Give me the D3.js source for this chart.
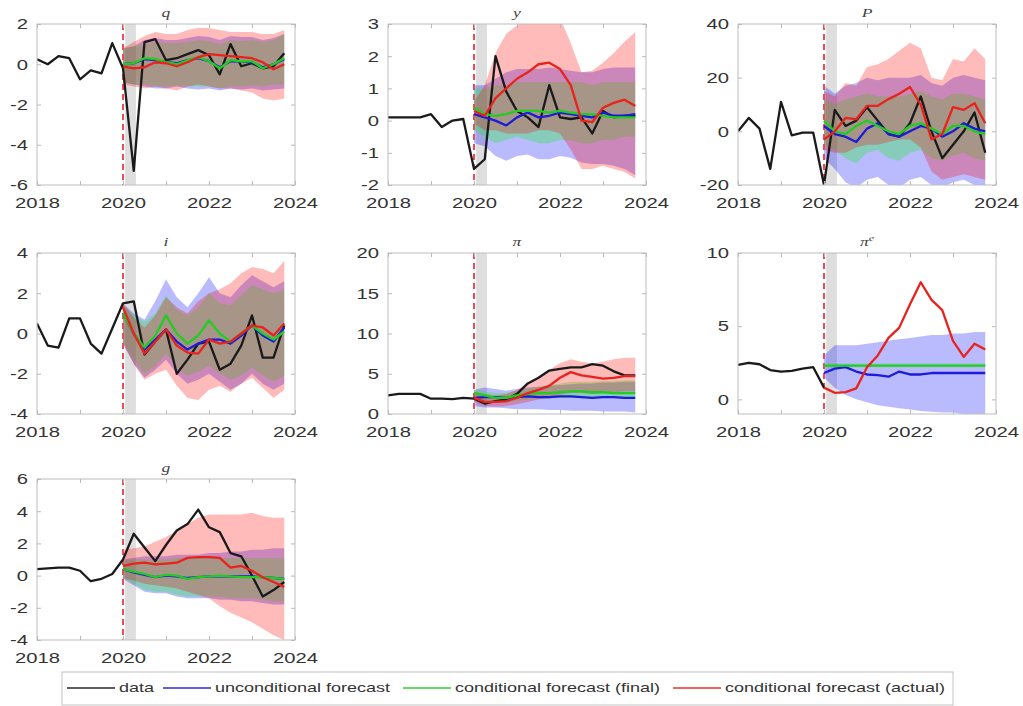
<!DOCTYPE html>
<meta charset="utf-8">
<script src="https://d3js.org/d3.v7.min.js"></script>
<title>Forecasts</title>
<style>
  body { margin: 0; background: white; }
  svg { display: block; font-family: "Liberation Sans", Arial, sans-serif; }
</style>
<body>
<div id="chart"></div>
<script>
// data: quarterly 2018Q1..2023Q4, forecasts: 2020Q1..2023Q4
var dataStart = 2018, fcStart = 2020, step = 0.25;
var yearTicks = [2018, 2019, 2020, 2021, 2022, 2023, 2024];
var legendLabels = ["data", "unconditional forecast", "conditional forecast (final)", "conditional forecast (actual)"];

// q
var qTicks = [-6, -4, -2, 0, 2];
var qData = [0.25, 0.0, 0.4, 0.3, -0.75, -0.3, -0.45, 1.05, -0.2, -5.3, 1.1, 1.25, 0.2, 0.3, 0.5, 0.7, 0.45, -0.5, 1.0, -0.1, 0.05, -0.2, -0.1, 0.55];
var qUnc = [0.0, 0.05, 0.25, 0.2, 0.1, 0.05, 0.2, 0.3, 0.15, -0.15, 0.15, 0.15, 0.1, -0.15, 0.0, 0.25];
var qFin = [0.0, 0.05, 0.3, 0.25, 0.1, 0.0, 0.2, 0.35, 0.15, -0.2, 0.2, 0.15, 0.15, -0.2, 0.0, 0.3];
var qAct = [-0.1, -0.2, -0.15, 0.1, 0.05, -0.1, 0.1, 0.35, 0.5, 0.45, 0.4, 0.35, 0.3, 0.1, -0.25, 0.0];
var qUncLo = [-0.9, -1.0, -1.1, -1.2, -1.2, -1.1, -1.2, -1.25, -1.2, -1.3, -1.2, -1.25, -1.2, -1.3, -1.25, -1.2];
var qUncHi = [0.8, 0.9, 1.2, 1.3, 1.2, 1.2, 1.3, 1.4, 1.35, 1.2, 1.4, 1.35, 1.35, 1.2, 1.3, 1.5];
var qFinLo = [-0.9, -1.0, -1.0, -1.1, -1.1, -1.05, -1.1, -1.1, -1.1, -1.2, -1.1, -1.1, -1.05, -1.1, -1.0, -1.0];
var qFinHi = [0.8, 0.9, 1.0, 1.1, 1.05, 1.05, 1.1, 1.2, 1.15, 1.0, 1.2, 1.15, 1.2, 1.1, 1.2, 1.5];
var qActLo = [-1.0, -1.1, -1.2, -1.1, -1.2, -1.3, -1.1, -1.0, -1.1, -1.2, -1.2, -1.3, -1.4, -1.7, -1.8, -1.7];
var qActHi = [0.8, 1.1, 1.4, 1.6, 1.5, 1.5, 1.7, 1.8, 1.8, 1.7, 1.6, 1.6, 1.6, 1.5, 1.5, 1.7];

// y
var yTicks = [-2, -1, 0, 1, 2, 3];
var yData = [0.1, 0.1, 0.1, 0.1, 0.2, -0.2, 0.0, 0.05, -1.5, -1.2, 2.0, 0.9, 0.3, 0.1, -0.2, 1.1, 0.1, 0.05, 0.1, -0.4, 0.3, 0.1, 0.15, 0.15];
var yUnc = [0.2, 0.1, 0.0, -0.15, 0.1, 0.25, 0.1, 0.15, 0.25, 0.2, 0.15, 0.1, 0.25, 0.15, 0.15, 0.2];
var yFin = [0.4, 0.2, 0.15, 0.2, 0.3, 0.3, 0.3, 0.25, 0.3, 0.25, 0.2, 0.2, 0.15, 0.1, 0.1, 0.1];
var yAct = [0.3, 0.15, 0.7, 1.0, 1.3, 1.5, 1.75, 1.8, 1.6, 1.1, 0.0, -0.05, 0.4, 0.55, 0.65, 0.45];
var yUncLo = [-0.7, -0.8, -1.1, -1.25, -1.1, -1.05, -1.2, -1.2, -1.1, -1.15, -1.3, -1.35, -1.35, -1.4, -1.5, -1.7];
var yUncHi = [1.1, 1.1, 1.3, 1.5, 1.6, 1.6, 1.6, 1.65, 1.6, 1.55, 1.5, 1.5, 1.6, 1.65, 1.65, 1.65];
var yFinLo = [-0.3, -0.5, -0.7, -0.6, -0.5, -0.6, -0.7, -0.7, -0.6, -0.6, -0.7, -0.7, -0.6, -0.6, -0.5, -0.5];
var yFinHi = [1.0, 1.0, 1.1, 1.1, 1.2, 1.2, 1.2, 1.2, 1.2, 1.2, 1.2, 1.1, 1.2, 1.2, 1.2, 1.2];
var yActLo = [-0.1, -0.3, -0.3, -0.4, -0.4, -0.4, -0.3, -0.3, -0.4, -0.9, -1.5, -1.5, -1.4, -1.5, -1.6, -1.8];
var yActHi = [0.6, 1.1, 2.1, 2.7, 2.95, 3.2, 3.4, 3.4, 3.2, 2.4, 1.5, 1.55, 1.8, 2.1, 2.45, 2.75];

// P
var pTicks = [-20, 0, 20, 40];
var pData = [0, 5, 1, -14, 11, -1.5, -0.5, -0.5, -20, 8, 2, 4, 9, 4, -1, -2, 3, 13, 0, -10, -5, 0, 7, -8];
var pUnc = [2, -1, -2, -4, 1, 3, -1, -2, 0, 2, 1, -2, 0, 3, 1, 0];
var pFin = [4, 0, -1, 2, 4, 2, 0, -1, 2, 3, 1, -1, 2, 2, 0, -1];
var pAct = [-3, 0, 5, 4.5, 9.5, 9.5, 12, 14, 16.5, 10, -3, -1, 9, 8, 10.5, 3];
var pUncLo = [-10, -14, -19, -21, -18, -17, -20, -21, -18, -17, -20, -21, -19, -18, -20, -21];
var pUncHi = [17, 14, 17, 18, 20, 19, 20, 20, 20, 21, 18, 17, 20, 21, 20, 19];
var pFinLo = [-5, -7, -10, -12, -8, -7, -10, -11, -8, -7, -10, -11, -9, -8, -10, -11];
var pFinHi = [12, 10, 12, 13, 14, 13, 13, 13, 14, 15, 13, 12, 14, 14, 13, 12];
var pActLo = [-7, -8, -8, -6, -5, -5, -4, -3, -3, -6, -15, -18, -17, -16, -17, -18];
var pActHi = [15, 13, 18, 17, 24, 25, 27, 30, 33, 31, 20, 19, 27, 26, 31, 27];

// i
var iTicks = [-4, -2, 0, 2, 4];
var iData = [0.5, -0.6, -0.7, 0.75, 0.75, -0.5, -1.0, 0.25, 1.5, 1.6, -1.05, -0.4, 0.2, -2.0, -1.3, -0.5, -0.4, -1.8, -1.5, -0.6, 0.9, -1.2, -1.2, 0.4];
var iUnc = [1.0, 0.0, -0.8, -0.3, 0.2, -0.4, -0.8, -0.5, -0.3, -0.3, -0.5, -0.1, 0.4, -0.1, -0.4, 0.3];
var iFin = [1.0, 0.0, -0.7, -0.1, 0.9, 0.0, -0.5, -0.1, 0.65, 0.0, -0.4, 0.0, 0.4, 0.0, -0.3, 0.1];
var iAct = [1.3, 0.0, -1.0, -0.4, 0.2, -0.6, -0.95, -1.0, -0.3, -0.5, -0.4, 0.0, 0.4, 0.3, -0.1, 0.5];
var iUncLo = [-0.5, -1.5, -2.2, -1.8, -1.3, -2.0, -2.5, -2.3, -2.0, -2.4, -2.8, -2.5, -2.0, -2.5, -2.8, -2.5];
var iUncHi = [1.5, 1.0, 0.7, 1.6, 2.7, 1.8, 1.3, 2.0, 2.8, 2.0, 1.8, 2.4, 2.9, 2.6, 2.3, 2.6];
var iFinLo = [-0.4, -1.3, -2.0, -1.6, -1.0, -1.7, -2.1, -1.9, -1.6, -2.0, -2.3, -2.1, -1.7, -2.1, -2.4, -2.1];
var iFinHi = [1.4, 0.9, 0.6, 1.0, 1.9, 1.2, 0.9, 1.3, 2.0, 1.5, 1.4, 1.9, 2.4, 2.2, 2.0, 2.2];
var iActLo = [-0.5, -1.5, -2.3, -2.0, -1.8, -2.6, -3.2, -3.3, -2.8, -2.6, -2.9, -2.5, -2.2, -2.7, -3.2, -2.8];
var iActHi = [1.5, 0.8, 0.3, 0.9, 1.8, 1.3, 1.0, 1.6, 2.0, 2.2, 2.5, 3.0, 3.3, 3.2, 3.0, 3.6];

// pi
var piTicks = [0, 5, 10, 15, 20];
var piData = [2.3, 2.5, 2.5, 2.5, 1.9, 1.9, 1.85, 2.0, 1.9, 1.3, 1.6, 1.8, 2.5, 3.8, 4.5, 5.4, 5.6, 5.8, 5.8, 6.2, 6.0, 5.3, 4.8, 4.8];
var piUnc = [2.0, 2.1, 2.1, 2.0, 2.1, 2.2, 2.1, 2.1, 2.2, 2.2, 2.1, 2.0, 2.1, 2.1, 2.0, 2.0];
var piFin = [2.6, 2.3, 2.0, 2.0, 2.3, 2.5, 2.6, 2.6, 2.7, 2.8, 2.8, 2.7, 2.7, 2.6, 2.6, 2.6];
var piAct = [2.0, 1.5, 1.5, 1.6, 2.0, 2.6, 3.0, 3.5, 4.5, 5.2, 4.8, 4.6, 4.4, 4.5, 4.7, 4.7];
var piUncLo = [1.0, 0.8, 0.8, 0.7, 0.6, 0.6, 0.6, 0.5, 0.5, 0.4, 0.4, 0.4, 0.3, 0.3, 0.3, 0.2];
var piUncHi = [3.0, 3.3, 3.1, 2.9, 3.1, 3.3, 3.4, 3.5, 3.6, 3.7, 3.8, 3.8, 3.9, 3.9, 4.0, 4.0];
var piFinLo = [2.0, 1.6, 1.4, 1.4, 1.6, 1.8, 1.9, 1.9, 2.0, 2.0, 2.0, 2.0, 2.0, 2.0, 2.0, 2.0];
var piFinHi = [3.0, 2.8, 2.6, 2.6, 2.9, 3.2, 3.4, 3.6, 3.8, 4.0, 4.0, 4.0, 4.1, 4.1, 4.2, 4.2];
var piActLo = [1.5, 1.0, 0.9, 1.0, 1.2, 1.5, 1.8, 2.0, 2.4, 2.6, 2.6, 2.5, 2.6, 2.7, 2.8, 2.8];
var piActHi = [2.8, 2.5, 2.3, 2.5, 3.0, 3.8, 4.5, 5.5, 6.3, 6.8, 6.5, 6.3, 6.5, 6.8, 7.0, 7.0];

// pi^e (data only to 2020Q1, no band for the actual path)
var peTicks = [0, 5, 10];
var peData = [2.35, 2.5, 2.4, 2.0, 1.9, 1.95, 2.1, 2.2, 0.8];
var peUnc = [1.8, 2.1, 2.2, 1.9, 1.7, 1.65, 1.55, 1.9, 1.7, 1.7, 1.8, 1.8, 1.8, 1.8, 1.8, 1.8];
var peFin = [2.3, 2.3, 2.3, 2.3, 2.3, 2.3, 2.3, 2.3, 2.3, 2.3, 2.3, 2.3, 2.3, 2.3, 2.3, 2.3];
var peAct = [0.8, 0.45, 0.5, 0.75, 2.2, 3.0, 4.2, 4.9, 6.5, 8.0, 6.8, 6.1, 4.0, 2.9, 3.8, 3.4];
var peUncLo = [1.5, 0.8, 0.3, 0.0, -0.2, -0.4, -0.5, -0.6, -0.7, -0.8, -0.85, -0.9, -0.9, -1.0, -1.0, -1.0];
var peUncHi = [3.0, 3.7, 3.7, 3.7, 3.8, 3.9, 4.0, 4.1, 4.2, 4.3, 4.4, 4.4, 4.5, 4.5, 4.6, 4.6];
var peFinLo = [2.2, 2.2, 2.2, 2.2, 2.2, 2.2, 2.2, 2.2, 2.2, 2.2, 2.2, 2.2, 2.2, 2.2, 2.2, 2.2];
var peFinHi = [2.45, 2.45, 2.45, 2.45, 2.45, 2.45, 2.45, 2.45, 2.45, 2.45, 2.45, 2.45, 2.45, 2.45, 2.45, 2.45];

// g
var gTicks = [-4, -2, 0, 2, 4, 6];
var gData = [0.4, 0.45, 0.5, 0.5, 0.3, -0.35, -0.2, 0.1, 1.0, 2.6, 1.75, 0.9, 1.9, 2.8, 3.2, 4.1, 3.0, 2.7, 1.4, 1.2, 0.0, -1.3, -0.9, -0.4];
var gUnc = [0.4, 0.2, 0.05, -0.1, 0.0, -0.05, -0.15, -0.1, -0.05, -0.05, -0.05, -0.05, -0.05, -0.1, -0.15, -0.2];
var gFin = [0.4, 0.25, 0.1, -0.1, 0.05, 0.0, -0.2, -0.1, -0.05, 0.0, -0.05, -0.1, -0.1, -0.1, -0.15, -0.2];
var gAct = [0.6, 0.75, 0.8, 0.7, 0.75, 0.8, 1.1, 1.15, 1.15, 1.1, 0.5, 0.6, 0.3, -0.1, -0.4, -0.7];
var gUncLo = [-0.2, -0.6, -1.0, -1.1, -1.1, -1.3, -1.4, -1.4, -1.4, -1.5, -1.5, -1.6, -1.6, -1.7, -1.8, -1.8];
var gUncHi = [1.0, 1.1, 1.2, 1.2, 1.2, 1.3, 1.3, 1.3, 1.4, 1.4, 1.5, 1.5, 1.6, 1.6, 1.7, 1.7];
var gFinLo = [-0.1, -0.5, -0.9, -1.0, -1.0, -1.2, -1.3, -1.3, -1.3, -1.3, -1.4, -1.4, -1.4, -1.5, -1.6, -1.6];
var gFinHi = [0.9, 1.0, 1.0, 1.0, 1.0, 1.1, 1.1, 1.1, 1.1, 1.1, 1.1, 1.1, 1.1, 1.1, 1.1, 1.1];
var gActLo = [-0.2, -0.3, -0.5, -0.6, -0.7, -0.8, -1.0, -1.2, -1.4, -1.9, -2.3, -2.6, -2.9, -3.3, -3.7, -4.0];
var gActHi = [1.6, 1.7, 1.8, 2.1, 2.4, 2.8, 3.2, 3.6, 3.8, 3.8, 3.8, 3.8, 3.9, 3.7, 3.6, 3.6];

var panels = [
  {title: "q", col: 0, row: 0, dom: [-6, 2], ticks: qTicks, data: qData, unc: qUnc, fin: qFin, act: qAct,
   bands: [[qUncLo, qUncHi], [qFinLo, qFinHi], [qActLo, qActHi]]},
  {title: "y", col: 1, row: 0, dom: [-2, 3], ticks: yTicks, data: yData, unc: yUnc, fin: yFin, act: yAct,
   bands: [[yUncLo, yUncHi], [yFinLo, yFinHi], [yActLo, yActHi]]},
  {title: "P", col: 2, row: 0, dom: [-20, 40], ticks: pTicks, data: pData, unc: pUnc, fin: pFin, act: pAct,
   bands: [[pUncLo, pUncHi], [pFinLo, pFinHi], [pActLo, pActHi]]},
  {title: "i", col: 0, row: 1, dom: [-4, 4], ticks: iTicks, data: iData, unc: iUnc, fin: iFin, act: iAct,
   bands: [[iUncLo, iUncHi], [iFinLo, iFinHi], [iActLo, iActHi]]},
  {title: "π", col: 1, row: 1, dom: [0, 20], ticks: piTicks, data: piData, unc: piUnc, fin: piFin, act: piAct,
   bands: [[piUncLo, piUncHi], [piFinLo, piFinHi], [piActLo, piActHi]]},
  {title: "π", sup: "e", col: 2, row: 1, dom: [-1, 10], ticks: peTicks, data: peData, unc: peUnc, fin: peFin, act: peAct,
   bands: [[peUncLo, peUncHi], [peFinLo, peFinHi], null]},
  {title: "g", col: 0, row: 2, dom: [-4, 6], ticks: gTicks, data: gData, unc: gUnc, fin: gFin, act: gAct,
   bands: [[gUncLo, gUncHi], [gFinLo, gFinHi], [gActLo, gActHi]]}
];

var lineColors = ["#1a1a1a", "#1c1cd6", "#22cc22", "#e8231d"];
var bandColors = ["rgba(0,0,255,0.27)", "rgba(0,255,0,0.27)", "rgba(255,0,0,0.27)"];
var shadeFrom = 2020.05, shadeTo = 2020.3;

var SX = 1.35; // glyphs in the picture are wider than tall
var colLeft = [37, 388, 738], rowTop = [24, 253, 479], pw = 258, ph = 161;

var svg = d3.select("#chart").append("svg")
    .attr("width", 1023)
    .attr("height", 706);

panels.forEach(function(p, k) {
  var left = colLeft[p.col], top = rowTop[p.row];
  var x = d3.scaleLinear().domain([2018, 2024]).range([left, left + pw]);
  var y = d3.scaleLinear().domain(p.dom).range([top + ph, top]);
  var g = svg.append("g");

  g.append("clipPath").attr("id", "clip" + k)
    .append("rect").attr("x", left).attr("y", top).attr("width", pw).attr("height", ph);
  var plot = g.append("g").attr("clip-path", "url(#clip" + k + ")");

  plot.append("rect")
    .attr("x", x(shadeFrom)).attr("y", top)
    .attr("width", x(shadeTo) - x(shadeFrom)).attr("height", ph)
    .attr("fill", "#dedede");

  p.bands.forEach(function(b, j) {
    if (!b) return;
    var area = d3.area()
      .x(function(d, i) { return x(fcStart + i * step); })
      .y0(function(d, i) { return y(b[0][i]); })
      .y1(function(d, i) { return y(b[1][i]); });
    plot.append("path").datum(b[0]).attr("d", area).attr("fill", bandColors[j]);
  });

  plot.append("line")
    .attr("x1", x(fcStart)).attr("x2", x(fcStart))
    .attr("y1", top).attr("y2", top + ph)
    .attr("stroke", "#ec4b55").attr("stroke-width", 2)
    .attr("stroke-dasharray", "6,4");

  var series = [[p.data, dataStart], [p.unc, fcStart], [p.fin, fcStart], [p.act, fcStart]];
  series.forEach(function(s, j) {
    var line = d3.line()
      .x(function(d, i) { return x(s[1] + i * step); })
      .y(function(d) { return y(d); });
    plot.append("path").datum(s[0]).attr("d", line)
      .attr("fill", "none").attr("stroke", lineColors[j])
      .attr("stroke-width", 2.3).attr("stroke-linejoin", "round");
  });

  // box with inside ticks
  var xb = g.append("g").attr("transform", "translate(0," + (top + ph) + ")")
    .call(d3.axisBottom(x).tickValues(yearTicks).tickSize(-4).tickPadding(12)
      .tickFormat(function(d) { return d % 2 === 0 ? String(d) : ""; }));
  var xt = g.append("g").attr("transform", "translate(0," + top + ")")
    .call(d3.axisTop(x).tickValues(yearTicks).tickSize(-4).tickFormat(""));
  var yl = g.append("g").attr("transform", "translate(" + left + ",0)")
    .call(d3.axisLeft(y).tickValues(p.ticks).tickSize(-4).tickPadding(9 / SX)
      .tickFormat(function(d) { return String(d); }));
  var yr = g.append("g").attr("transform", "translate(" + (left + pw) + ",0)")
    .call(d3.axisRight(y).tickValues(p.ticks).tickSize(-4).tickFormat(""));
  [xb, xt, yl, yr].forEach(function(a) {
    a.select(".domain").remove();
    a.selectAll("line").attr("stroke", "#b8b8b8");
    a.selectAll("text").attr("font-size", 15).attr("fill", "#333")
      .attr("font-family", "Liberation Sans, Arial, sans-serif")
      .attr("transform", "scale(" + SX + ",1)");
  });
  g.append("rect").attr("x", left).attr("y", top).attr("width", pw).attr("height", ph)
    .attr("fill", "none").attr("stroke", "#bdbdbd").attr("stroke-width", 1);

  var t = g.append("text")
    .attr("transform", "translate(" + (left + pw / 2) + "," + (top - 7) + ") scale(" + SX + ",1)")
    .attr("text-anchor", "middle")
    .attr("font-family", "Liberation Serif, Times New Roman, serif")
    .attr("font-style", "italic").attr("font-size", 13).attr("fill", "#444")
    .text(p.title);
  if (p.sup) t.append("tspan").attr("baseline-shift", "super").attr("font-size", 9).text(p.sup);
});

// legend
var leg = svg.append("g");
leg.append("rect").attr("x", 62).attr("y", 672).attr("width", 891).attr("height", 33)
  .attr("fill", "white").attr("stroke", "#c4c4c4");
var legX = [67, 163, 403, 673], legW = [35, 175, 205, 220];
legendLabels.forEach(function(lab, j) {
  leg.append("line").attr("x1", legX[j]).attr("x2", legX[j] + 48)
    .attr("y1", 688).attr("y2", 688)
    .attr("stroke", lineColors[j]).attr("stroke-opacity", 0.7).attr("stroke-width", 2);
  leg.append("text").attr("x", legX[j] + 52).attr("y", 692)
    .attr("font-size", 13).attr("fill", "#333")
    .attr("textLength", legW[j]).attr("lengthAdjust", "spacingAndGlyphs")
    .text(lab);
});
</script>
</body>
